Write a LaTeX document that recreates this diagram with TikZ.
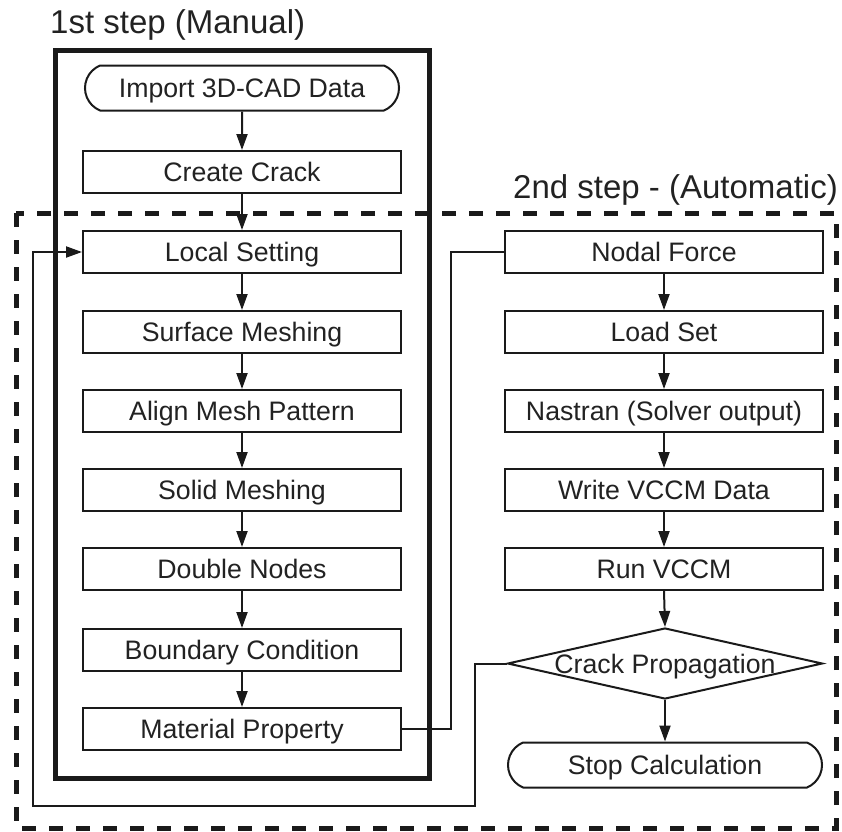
\documentclass[tikz,border=0pt]{standalone}
\usepackage{fontspec}
\setmainfont{Liberation Sans}
\usetikzlibrary{shapes.geometric,shapes.misc,arrows.meta}
\definecolor{ink}{HTML}{1A1A1A}
\definecolor{txt}{HTML}{222222}
\begin{document}
\begin{tikzpicture}[x=1pt,y=-1pt,
  box/.style={draw=ink,line width=2pt,minimum width=318pt,minimum height=42pt,inner sep=0pt,
    font=\fontsize{26.7}{30}\selectfont,text=txt,text height=19pt,text depth=0pt,fill=white},
  term/.style={box,rounded rectangle,rounded rectangle arc length=135,minimum width=314pt,minimum height=45pt},
  decide/.style={draw=ink,line width=2pt,diamond,inner sep=0pt,minimum width=315pt,minimum height=71pt,
    font=\fontsize{26.7}{30}\selectfont,text=txt,text height=19pt,text depth=0pt},
  title/.style={font=\fontsize{33}{37}\selectfont,text=txt,inner sep=0pt},
  flow/.style={draw=ink,line width=2pt,-{Triangle[length=16pt,width=11pt]}},
  link/.style={draw=ink,line width=2pt},
  manual/.style={draw=ink,line width=5pt},
  auto/.style={draw=ink,line width=5pt,dash pattern=on 14pt off 13pt}]
\useasboundingbox (0,0) rectangle (842,831);

% frames
\draw[manual] (55,50) rectangle (429,778);
\draw[auto] (16,213) rectangle (836,828);

% titles
\node[title,anchor=base west] (t1) at (50,33) {1st step (Manual)};
\node[title,anchor=base east] (t2) at (838,198) {2nd step - (Automatic)};

% left column
\node[term] (import) at (242,88) {Import 3D-CAD Data};
\node[box] (crack) at (242,172) {Create Crack};
\node[box] (local) at (242,252) {Local Setting};
\node[box] (surf) at (242,332) {Surface Meshing};
\node[box] (align) at (242,411) {Align Mesh Pattern};
\node[box] (solid) at (242,490) {Solid Meshing};
\node[box] (double) at (242,569) {Double Nodes};
\node[box] (bound) at (242,650) {Boundary Condition};
\node[box] (mat) at (242,729) {Material Property};

% right column
\node[box] (nodal) at (664,252) {Nodal Force};
\node[box] (load) at (664,332) {Load Set};
\node[box] (nastran) at (664,411) {Nastran (Solver output)};
\node[box] (write) at (664,490) {Write VCCM Data};
\node[box] (run) at (664,569) {Run VCCM};
\node[decide] (prop) at (665,663.5) {\makebox[0pt]{Crack Propagation}};
\node[term] (stop) at (665,765) {Stop Calculation};

% flow arrows
\draw[flow] (import) -- (crack);
\draw[flow] (crack) -- (local);
\draw[flow] (local) -- (surf);
\draw[flow] (surf) -- (align);
\draw[flow] (align) -- (solid);
\draw[flow] (solid) -- (double);
\draw[flow] (double) -- (bound);
\draw[flow] (bound) -- (mat);
\draw[flow] (nodal) -- (load);
\draw[flow] (load) -- (nastran);
\draw[flow] (nastran) -- (write);
\draw[flow] (write) -- (run);
\draw[flow] (run.south) -- (prop.north);
\draw[flow] (prop.south) -- (stop.north);

% cross links
\coordinate (mx) at (451,0);
\draw[link] (mat.east) -| (mx |- nodal.west) -- (nodal.west);
\coordinate (fa) at (475,806);
\coordinate (fb) at (33,806);
\draw[flow] (prop.west) -| (fa) -- (fb) |- (local.west);
\end{tikzpicture}
\end{document}
